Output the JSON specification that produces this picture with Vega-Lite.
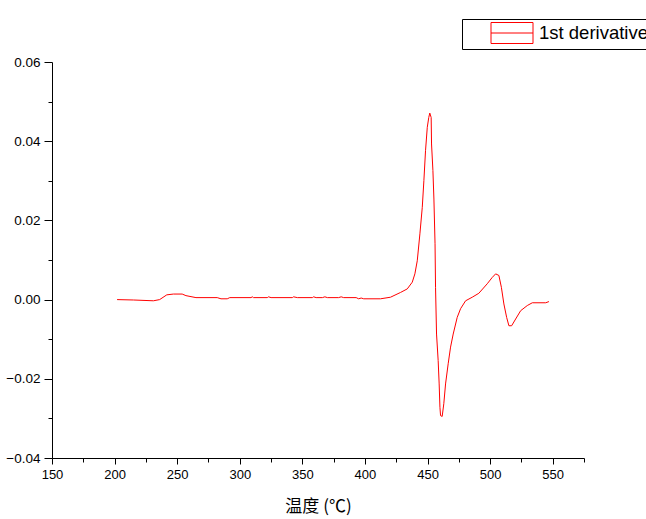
{
  "$schema": "https://vega.github.io/schema/vega-lite/v6.json",
  "width": 532,
  "height": 396,
  "autosize": "none",
  "padding": {"left": 52, "top": 62, "right": 62, "bottom": 61},
  "background": "white",
  "config": {
    "view": {"stroke": null},
    "axis": {"domainColor": "black", "tickColor": "black", "grid": false, "labelColor": "black", "labelFont": "Liberation Sans", "labelFontSize": 13, "titleFont": "Noto Sans CJK SC", "titleFontWeight": "normal", "titleColor": "black"}
  },
  "data": {
    "values": [
      {"t": 202, "d": 0.0000, "s": "1st derivative"},
      {"t": 215, "d": -0.0001, "s": "1st derivative"},
      {"t": 231, "d": -0.0003, "s": "1st derivative"},
      {"t": 236, "d": 0.0000, "s": "1st derivative"},
      {"t": 241.7, "d": 0.0012, "s": "1st derivative"},
      {"t": 247, "d": 0.0014, "s": "1st derivative"},
      {"t": 254, "d": 0.0014, "s": "1st derivative"},
      {"t": 257, "d": 0.0010, "s": "1st derivative"},
      {"t": 265, "d": 0.0005, "s": "1st derivative"},
      {"t": 282, "d": 0.0005, "s": "1st derivative"},
      {"t": 285, "d": 0.0002, "s": "1st derivative"},
      {"t": 290, "d": 0.0002, "s": "1st derivative"},
      {"t": 292, "d": 0.0005, "s": "1st derivative"},
      {"t": 309, "d": 0.0005, "s": "1st derivative"},
      {"t": 310, "d": 0.0007, "s": "1st derivative"},
      {"t": 311, "d": 0.0005, "s": "1st derivative"},
      {"t": 322, "d": 0.0005, "s": "1st derivative"},
      {"t": 323, "d": 0.0007, "s": "1st derivative"},
      {"t": 325, "d": 0.0005, "s": "1st derivative"},
      {"t": 342, "d": 0.0005, "s": "1st derivative"},
      {"t": 343, "d": 0.0007, "s": "1st derivative"},
      {"t": 346, "d": 0.0005, "s": "1st derivative"},
      {"t": 358, "d": 0.0005, "s": "1st derivative"},
      {"t": 359, "d": 0.0007, "s": "1st derivative"},
      {"t": 361, "d": 0.0005, "s": "1st derivative"},
      {"t": 366, "d": 0.0005, "s": "1st derivative"},
      {"t": 368, "d": 0.0007, "s": "1st derivative"},
      {"t": 370, "d": 0.0005, "s": "1st derivative"},
      {"t": 379, "d": 0.0005, "s": "1st derivative"},
      {"t": 381, "d": 0.0007, "s": "1st derivative"},
      {"t": 383, "d": 0.0005, "s": "1st derivative"},
      {"t": 393, "d": 0.0005, "s": "1st derivative"},
      {"t": 395, "d": 0.0002, "s": "1st derivative"},
      {"t": 397, "d": 0.0004, "s": "1st derivative"},
      {"t": 399, "d": 0.0002, "s": "1st derivative"},
      {"t": 412.4, "d": 0.0002, "s": "1st derivative"},
      {"t": 420.4, "d": 0.0006, "s": "1st derivative"},
      {"t": 428.4, "d": 0.0018, "s": "1st derivative"},
      {"t": 433.8, "d": 0.0027, "s": "1st derivative"},
      {"t": 437.8, "d": 0.0044, "s": "1st derivative"},
      {"t": 439.9, "d": 0.0065, "s": "1st derivative"},
      {"t": 441.8, "d": 0.0098, "s": "1st derivative"},
      {"t": 443.9, "d": 0.0166, "s": "1st derivative"},
      {"t": 445.8, "d": 0.0233, "s": "1st derivative"},
      {"t": 447.1, "d": 0.0301, "s": "1st derivative"},
      {"t": 448.4, "d": 0.0376, "s": "1st derivative"},
      {"t": 449.8, "d": 0.0435, "s": "1st derivative"},
      {"t": 451.0, "d": 0.0460, "s": "1st derivative"},
      {"t": 451.8, "d": 0.0471, "s": "1st derivative"},
      {"t": 452.9, "d": 0.0460, "s": "1st derivative"},
      {"t": 453.2, "d": 0.0393, "s": "1st derivative"},
      {"t": 454.3, "d": 0.0326, "s": "1st derivative"},
      {"t": 455.1, "d": 0.0254, "s": "1st derivative"},
      {"t": 456.0, "d": 0.0141, "s": "1st derivative"},
      {"t": 456.4, "d": 0.0031, "s": "1st derivative"},
      {"t": 457.2, "d": -0.0087, "s": "1st derivative"},
      {"t": 458.5, "d": -0.0154, "s": "1st derivative"},
      {"t": 459.3, "d": -0.0213, "s": "1st derivative"},
      {"t": 459.9, "d": -0.0272, "s": "1st derivative"},
      {"t": 460.4, "d": -0.0293, "s": "1st derivative"},
      {"t": 461.7, "d": -0.0295, "s": "1st derivative"},
      {"t": 463.0, "d": -0.0263, "s": "1st derivative"},
      {"t": 464.4, "d": -0.0213, "s": "1st derivative"},
      {"t": 466.5, "d": -0.0162, "s": "1st derivative"},
      {"t": 468.4, "d": -0.0120, "s": "1st derivative"},
      {"t": 470.5, "d": -0.0087, "s": "1st derivative"},
      {"t": 473.7, "d": -0.0045, "s": "1st derivative"},
      {"t": 476.4, "d": -0.0023, "s": "1st derivative"},
      {"t": 480.4, "d": -0.0003, "s": "1st derivative"},
      {"t": 485.7, "d": 0.0006, "s": "1st derivative"},
      {"t": 491.0, "d": 0.0016, "s": "1st derivative"},
      {"t": 497.7, "d": 0.0040, "s": "1st derivative"},
      {"t": 501.7, "d": 0.0056, "s": "1st derivative"},
      {"t": 504.4, "d": 0.0065, "s": "1st derivative"},
      {"t": 507.0, "d": 0.0061, "s": "1st derivative"},
      {"t": 509.0, "d": 0.0031, "s": "1st derivative"},
      {"t": 511.0, "d": -0.0011, "s": "1st derivative"},
      {"t": 513.2, "d": -0.0045, "s": "1st derivative"},
      {"t": 515.0, "d": -0.0066, "s": "1st derivative"},
      {"t": 517.2, "d": -0.0066, "s": "1st derivative"},
      {"t": 520.4, "d": -0.0049, "s": "1st derivative"},
      {"t": 524.4, "d": -0.0028, "s": "1st derivative"},
      {"t": 529.7, "d": -0.0015, "s": "1st derivative"},
      {"t": 533.7, "d": -0.0008, "s": "1st derivative"},
      {"t": 544.4, "d": -0.0008, "s": "1st derivative"},
      {"t": 547.0, "d": -0.0005, "s": "1st derivative"}
    ]
  },
  "mark": {"type": "line", "strokeWidth": 1, "interpolate": "linear"},
  "encoding": {
    "x": {
      "field": "t", "type": "quantitative",
      "scale": {"domain": [150, 575], "nice": false, "zero": false},
      "axis": {
        "title": "温度 (℃)",
        "titleFontSize": 17,
        "titlePadding": 17,
        "values": [150, 175, 200, 225, 250, 275, 300, 325, 350, 375, 400, 425, 450, 475, 500, 525, 550, 575],
        "labelExpr": "datum.value % 50 == 0 ? datum.value : ''",
        "tickSize": {"condition": {"test": "datum.value % 50 == 0", "value": 6}, "value": 4},
        "labelPadding": 4,
        "labelFlush": false
      }
    },
    "y": {
      "field": "d", "type": "quantitative",
      "scale": {"domain": [-0.04, 0.06], "nice": false, "zero": false},
      "axis": {
        "title": null,
        "values": [-0.04, -0.03, -0.02, -0.01, 0, 0.01, 0.02, 0.03, 0.04, 0.05, 0.06],
        "labelExpr": "abs(round(datum.value * 100)) % 2 == 0 ? format(datum.value, '.2f') : ''",
        "tickSize": {"condition": {"test": "abs(round(datum.value * 100)) % 2 == 0", "value": 8}, "value": 4},
        "labelFontSize": 13.5,
        "labelPadding": 4,
        "labelFlush": false
      }
    },
    "color": {
      "field": "s", "type": "nominal",
      "scale": {"domain": ["1st derivative"], "range": ["#ff0000"]},
      "legend": {
        "title": null,
        "orient": "none",
        "legendX": 410,
        "legendY": -43,
        "strokeColor": "black",
        "fillColor": "white",
        "padding": 3,
        "symbolType": "M-2,-1H2V1H-2Z M-2,0H2",
        "symbolSize": 441,
        "symbolStrokeWidth": 1,
        "symbolFillColor": "transparent",
        "symbolOffset": 36,
        "labelFont": "Liberation Sans",
        "labelFontSize": 18.5,
        "labelColor": "black",
        "labelOffset": 16
      }
    }
  }
}
